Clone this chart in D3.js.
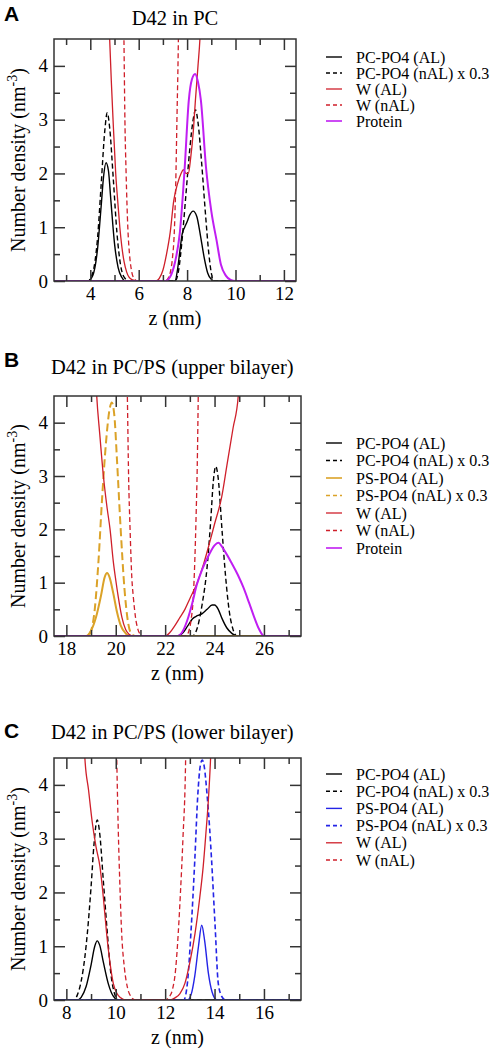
<!DOCTYPE html>
<html><head><meta charset="utf-8">
<script src="https://cdn.jsdelivr.net/npm/d3@7"></script>
<style>body{margin:0;background:#fff}svg{display:block}</style>
</head><body>
<svg id="chart" width="491" height="1048"></svg>
<script>
// ---------- DATA ----------
// Panel A : D42 in PC
const A_xTicks = [4, 6, 8, 10, 12];
const A_PC_AL = [[2.5,0],[3.9,0],[4.1,0.1],[4.3,0.6],[4.45,1.4],[4.55,1.95],[4.65,2.2],[4.75,2.05],[4.85,1.5],[5.0,0.7],[5.15,0.25],[5.3,0.07],[5.45,0],
  [7.5,0],[7.6,0.2],[7.7,0.55],[7.8,0.88],[7.9,1.0],[8.0,1.1],[8.1,1.22],[8.25,1.3],[8.4,1.2],[8.55,0.85],[8.7,0.45],[8.85,0.15],[9.0,0.03],[9.1,0],[12.5,0]];
const A_PC_nAL = [[2.5,0],[3.9,0],[4.1,0.15],[4.3,0.8],[4.45,1.8],[4.6,2.8],[4.7,3.13],[4.8,2.85],[4.95,1.9],[5.1,0.9],[5.25,0.3],[5.4,0.07],[5.6,0],
  [7.5,0],[7.65,0.2],[7.8,0.8],[7.95,1.6],[8.1,2.4],[8.25,3.0],[8.35,3.18],[8.45,2.95],[8.6,2.2],[8.75,1.3],[8.9,0.5],[9.0,0.15],[9.1,0],[12.5,0]];
const A_W_AL = [[2.5,40],[4.7,6],[4.8,4.5],[4.87,3.7],[4.94,3.0],[5.05,2.0],[5.14,1.45],[5.22,1.0],[5.3,0.65],[5.4,0.35],[5.5,0.17],[5.6,0.07],[5.75,0.02],[5.9,0],
  [6.7,0],[6.85,0.05],[7.0,0.2],[7.15,0.5],[7.3,0.9],[7.45,1.5],[7.6,1.8],[7.75,2.0],[7.85,2.07],[7.95,2.0],[8.05,2.0],[8.15,2.3],[8.25,2.75],[8.35,3.4],[8.45,4.0],[8.53,4.5],[8.65,6],[12.5,40]];
const A_W_nAL = [[2.5,40],[5.3,7],[5.39,4.5],[5.43,3.0],[5.48,2.0],[5.55,1.0],[5.62,0.5],[5.7,0.2],[5.8,0.05],[5.95,0],
  [7.1,0],[7.2,0.04],[7.3,0.15],[7.4,0.45],[7.47,0.9],[7.53,1.8],[7.58,3.0],[7.64,4.5],[7.7,7],[12.5,40]];
const A_Protein = [[2.5,0],[7.1,0],[7.3,0.08],[7.5,0.35],[7.7,0.9],[7.9,2.1],[8.07,3.36],[8.2,3.75],[8.33,3.85],[8.45,3.7],[8.57,3.36],[8.78,2.12],[9.0,1.3],[9.22,0.75],[9.4,0.3],[9.6,0.1],[9.8,0.02],[10.0,0],[12.5,0]];

// Panel B : D42 in PC/PS (upper bilayer)
const B_xTicks = [18, 20, 22, 24, 26];
const B_PC_AL = [[17.5,0],[22.5,0],[22.7,0.05],[22.9,0.18],[23.1,0.32],[23.3,0.38],[23.5,0.42],[23.7,0.5],[23.9,0.58],[24.0,0.58],[24.15,0.5],[24.3,0.33],[24.5,0.15],[24.7,0.05],[24.95,0],[27.5,0]];
const B_PC_nAL = [[17.5,0],[23.1,0],[23.3,0.15],[23.5,0.6],[23.7,1.3],[23.85,2.2],[23.95,2.9],[24.05,3.18],[24.15,2.95],[24.3,2.0],[24.45,1.1],[24.6,0.45],[24.75,0.12],[24.9,0],[27.5,0]];
const B_PS_AL = [[17.5,0],[18.8,0],[19.0,0.1],[19.2,0.35],[19.4,0.75],[19.55,1.1],[19.65,1.18],[19.75,1.1],[19.9,0.8],[20.05,0.45],[20.2,0.2],[20.4,0.05],[20.6,0],[27.5,0]];
const B_PS_nAL = [[17.5,0],[18.85,0],[19.0,0.1],[19.15,0.5],[19.3,1.4],[19.45,2.6],[19.6,3.6],[19.75,4.25],[19.84,4.38],[19.95,4.1],[20.05,3.3],[20.2,2.0],[20.35,0.9],[20.5,0.25],[20.65,0.03],[20.8,0],[27.5,0]];
const B_W_AL = [[17.5,40],[19.1,6],[19.23,4.5],[19.35,3.8],[19.5,3.0],[19.65,2.4],[19.77,2.0],[19.9,1.4],[20.0,1.05],[20.1,0.74],[20.25,0.35],[20.4,0.12],[20.55,0.03],[20.7,0],
  [22.0,0],[22.2,0.07],[22.4,0.2],[22.6,0.35],[22.8,0.5],[23.0,0.7],[23.3,1.0],[23.57,1.37],[23.8,1.75],[24.0,2.1],[24.29,2.61],[24.5,3.2],[24.75,3.9],[24.96,4.5],[25.1,6],[27.5,40]];
const B_W_nAL = [[17.5,40],[20.35,7],[20.47,4.5],[20.52,3.0],[20.58,2.0],[20.65,1.1],[20.71,0.74],[20.8,0.35],[20.9,0.12],[21.0,0.03],[21.1,0],
  [22.85,0],[22.95,0.08],[23.05,0.3],[23.14,0.74],[23.2,1.4],[23.25,2.2],[23.3,3.2],[23.34,4.5],[23.4,7],[27.5,40]];
const B_Protein = [[17.5,0],[22.5,0],[22.7,0.08],[22.9,0.3],[23.1,0.62],[23.28,0.96],[23.5,1.25],[23.75,1.5],[24.0,1.7],[24.15,1.75],[24.4,1.6],[24.7,1.36],[24.95,1.14],[25.16,0.92],[25.4,0.62],[25.6,0.36],[25.8,0.13],[26.0,0],[27.5,0]];

// Panel C : D42 in PC/PS (lower bilayer)
const C_xTicks = [8, 10, 12, 14, 16];
const C_PC_AL = [[7.5,0],[8.45,0],[8.6,0.05],[8.8,0.25],[9.0,0.65],[9.15,1.0],[9.25,1.1],[9.35,1.02],[9.5,0.7],[9.7,0.3],[9.9,0.07],[10.1,0],[17.5,0]];
const C_PC_nAL = [[7.5,0],[8.3,0],[8.45,0.1],[8.6,0.35],[8.75,0.8],[8.85,1.24],[9.0,2.1],[9.12,2.9],[9.25,3.35],[9.35,3.1],[9.5,2.2],[9.66,1.24],[9.8,0.5],[9.95,0.12],[10.1,0],[17.5,0]];
const C_PS_AL = [[7.5,0],[12.9,0],[13.05,0.1],[13.2,0.45],[13.35,1.0],[13.48,1.39],[13.6,1.1],[13.75,0.5],[13.9,0.15],[14.1,0],[17.5,0]];
const C_PS_nAL = [[7.5,0],[12.75,0],[12.9,0.31],[13.05,1.3],[13.2,2.6],[13.32,3.8],[13.42,4.35],[13.5,4.46],[13.58,4.35],[13.7,3.8],[13.8,3.2],[13.88,2.6],[14.02,1.4],[14.15,0.31],[14.3,0.06],[14.45,0],[17.5,0]];
const C_W_AL = [[7.5,40],[8.65,6],[8.75,4.5],[8.9,3.9],[9.05,3.3],[9.2,2.85],[9.36,2.48],[9.5,1.9],[9.63,1.24],[9.75,0.75],[9.9,0.31],[10.05,0.12],[10.2,0.04],[10.4,0],
  [12.2,0],[12.4,0.04],[12.6,0.12],[12.8,0.31],[13.0,0.7],[13.21,1.24],[13.4,1.9],[13.54,2.48],[13.65,3.1],[13.75,3.72],[13.84,4.5],[13.95,6],[17.5,40]];
const C_W_nAL = [[7.5,40],[9.95,7],[10.04,4.5],[10.1,3.2],[10.17,2.1],[10.24,1.24],[10.35,0.6],[10.48,0.22],[10.62,0.06],[10.78,0],
  [12.0,0],[12.15,0.05],[12.3,0.2],[12.42,0.55],[12.53,1.24],[12.62,2.0],[12.72,3.0],[12.83,4.5],[12.9,7],[17.5,40]];

const yTicks = [0, 1, 2, 3, 4];
const legendA = ["PC-PO4 (AL)", "PC-PO4 (nAL) x 0.3", "W (AL)", "W (nAL)", "Protein"];
const legendB = ["PC-PO4 (AL)", "PC-PO4 (nAL) x 0.3", "PS-PO4 (AL)", "PS-PO4 (nAL) x 0.3", "W (AL)", "W (nAL)", "Protein"];
const legendC = ["PC-PO4 (AL)", "PC-PO4 (nAL) x 0.3", "PS-PO4 (AL)", "PS-PO4 (nAL) x 0.3", "W (AL)", "W (nAL)"];

// ---------- STYLES ----------
const RED = "#cf1f2a", MAG = "#c01ef2", ORG = "#dba228", BLU = "#2424e6";
const ST = {
  pcAL:  {c:"#000", w:1.4, d:null},
  pcnAL: {c:"#000", w:1.4, d:"5,3"},
  psALo: {c:ORG, w:2, d:null},
  psnALo:{c:ORG, w:2, d:"8,4"},
  psALb: {c:BLU, w:1.4, d:null},
  psnALb:{c:BLU, w:1.6, d:"5,3"},
  wAL:   {c:RED, w:1.3, d:null},
  wnAL:  {c:RED, w:1.3, d:"5,3"},
  prot:  {c:MAG, w:2, d:null}
};
const SERIF = "'Liberation Serif','Times New Roman',serif";
const SANS = "'Liberation Sans',Arial,sans-serif";

const panels = [
  {id:"A", title:"D42 in PC", titleX:175, titleAnchor:"middle", titleY:25, letterY:21,
   left:54, right:296, top:39, bottom:281, xDom:[2.5,12.5], xTicks:A_xTicks,
   series:[[A_PC_AL,"pcAL"],[A_PC_nAL,"pcnAL"],[A_W_AL,"wAL"],[A_W_nAL,"wnAL"],[A_Protein,"prot"]],
   legend:legendA, legendStyles:["pcAL","pcnAL","wAL","wnAL","prot"], legY:57, legDY:16},
  {id:"B", title:"D42 in PC/PS (upper bilayer)", titleX:51, titleAnchor:"start", titleY:374, letterY:367,
   left:54, right:301, top:396, bottom:636, xDom:[17.5,27.5], xTicks:B_xTicks,
   series:[[B_PC_AL,"pcAL"],[B_PC_nAL,"pcnAL"],[B_PS_AL,"psALo"],[B_PS_nAL,"psnALo"],[B_W_AL,"wAL"],[B_W_nAL,"wnAL"],[B_Protein,"prot"]],
   legend:legendB, legendStyles:["pcAL","pcnAL","psALo","psnALo","wAL","wnAL","prot"], legY:443, legDY:17.5},
  {id:"C", title:"D42 in PC/PS (lower bilayer)", titleX:51, titleAnchor:"start", titleY:739, letterY:738,
   left:54, right:301, top:758, bottom:1000, xDom:[7.5,17.5], xTicks:C_xTicks,
   series:[[C_PC_AL,"pcAL"],[C_PC_nAL,"pcnAL"],[C_PS_AL,"psALb"],[C_PS_nAL,"psnALb"],[C_W_AL,"wAL"],[C_W_nAL,"wnAL"]],
   legend:legendC, legendStyles:["pcAL","pcnAL","psALb","psnALb","wAL","wnAL"], legY:774, legDY:17.2}
];

const svg = d3.select("#chart");
const defs = svg.append("defs");

panels.forEach(p => {
  const x = d3.scaleLinear().domain(p.xDom).range([p.left, p.right]);
  const y = d3.scaleLinear().domain([0, 4.5]).range([p.bottom, p.top]);
  const g = svg.append("g");

  defs.append("clipPath").attr("id", "clip" + p.id)
    .append("rect").attr("x", p.left).attr("y", p.top)
    .attr("width", p.right - p.left).attr("height", p.bottom - p.top);

  // panel letter & title
  g.append("text").attr("x", 4).attr("y", p.letterY).text(p.id)
    .attr("font-family", SANS).attr("font-weight", "bold").attr("font-size", 21);
  g.append("text").attr("x", p.titleX).attr("y", p.titleY).attr("text-anchor", p.titleAnchor)
    .text(p.title).attr("font-family", SERIF).attr("font-size", 20.5);

  // curves
  const line = d3.line().x(d => x(d[0])).y(d => y(d[1])).curve(d3.curveMonotoneX);
  const cg = g.append("g").attr("clip-path", "url(#clip" + p.id + ")");
  p.series.forEach(([data, sk]) => {
    const s = ST[sk];
    cg.append("path").datum(data).attr("d", line).attr("fill", "none")
      .attr("stroke", s.c).attr("stroke-width", s.w)
      .attr("stroke-dasharray", s.d).attr("stroke-linejoin", "round");
  });

  // frame
  g.append("rect").attr("x", p.left).attr("y", p.top)
    .attr("width", p.right - p.left).attr("height", p.bottom - p.top)
    .attr("fill", "none").attr("stroke", "#333").attr("stroke-width", 1.5);

  const MAJ = 11, MIN = 6;
  const fmt = d3.format("d");
  const xMinor = d3.range(Math.ceil(p.xDom[0]), p.xDom[1] + 0.001, 1).filter(v => !p.xTicks.includes(v));
  const axB = d3.axisBottom(x).tickValues(p.xTicks).tickSize(-MAJ).tickPadding(6).tickFormat(fmt);
  const axT = d3.axisTop(x).tickValues(p.xTicks).tickSize(-MAJ).tickFormat("");
  const axBm = d3.axisBottom(x).tickValues(xMinor).tickSize(-MIN).tickFormat("");
  const axTm = d3.axisTop(x).tickValues(xMinor).tickSize(-MIN).tickFormat("");
  const yMinor = [0.5, 1.5, 2.5, 3.5];
  const axL = d3.axisLeft(y).tickValues(yTicks).tickSize(-MAJ).tickPadding(6).tickFormat(fmt);
  const axR = d3.axisRight(y).tickValues(yTicks).tickSize(-MAJ).tickFormat("");
  const axLm = d3.axisLeft(y).tickValues(yMinor).tickSize(-MIN).tickFormat("");
  const axRm = d3.axisRight(y).tickValues(yMinor).tickSize(-MIN).tickFormat("");
  const put = (ax, tr) => {
    const a = g.append("g").attr("transform", tr).call(ax);
    a.select(".domain").remove();
    a.selectAll("line").attr("stroke", "#333").attr("stroke-width", 1.5);
    a.selectAll("text").attr("font-family", SERIF).attr("font-size", 19).attr("fill", "#000");
    return a;
  };
  put(axB, `translate(0,${p.bottom})`);
  put(axT, `translate(0,${p.top})`);
  put(axBm, `translate(0,${p.bottom})`);
  put(axTm, `translate(0,${p.top})`);
  put(axL, `translate(${p.left},0)`);
  put(axR, `translate(${p.right},0)`);
  put(axLm, `translate(${p.left},0)`);
  put(axRm, `translate(${p.right},0)`);

  // axis titles
  g.append("text").attr("x", (p.left + p.right) / 2).attr("y", p.bottom + 43.5)
    .attr("text-anchor", "middle").attr("font-family", SERIF).attr("font-size", 20).text("z (nm)");
  const yl = g.append("text").attr("transform", `translate(25,${(p.top + p.bottom) / 2}) rotate(-90)`)
    .attr("text-anchor", "middle").attr("font-family", SERIF).attr("font-size", 20);
  yl.append("tspan").text("Number density (nm");
  yl.append("tspan").attr("dy", -8).attr("font-size", 14).text("-3");
  yl.append("tspan").attr("dy", 8).text(")");

  // legend
  p.legend.forEach((lab, i) => {
    const s = ST[p.legendStyles[i]];
    const ly = p.legY + i * p.legDY;
    g.append("line").attr("x1", 326).attr("x2", 342).attr("y1", ly).attr("y2", ly)
      .attr("stroke", s.c).attr("stroke-width", Math.min(s.w, 1.6)).attr("stroke-dasharray", s.d ? "4,3" : null);
    g.append("text").attr("x", 356).attr("y", ly).attr("dy", "0.35em")
      .attr("font-family", SERIF).attr("font-size", 16).text(lab);
  });
});
</script>
</body></html>
